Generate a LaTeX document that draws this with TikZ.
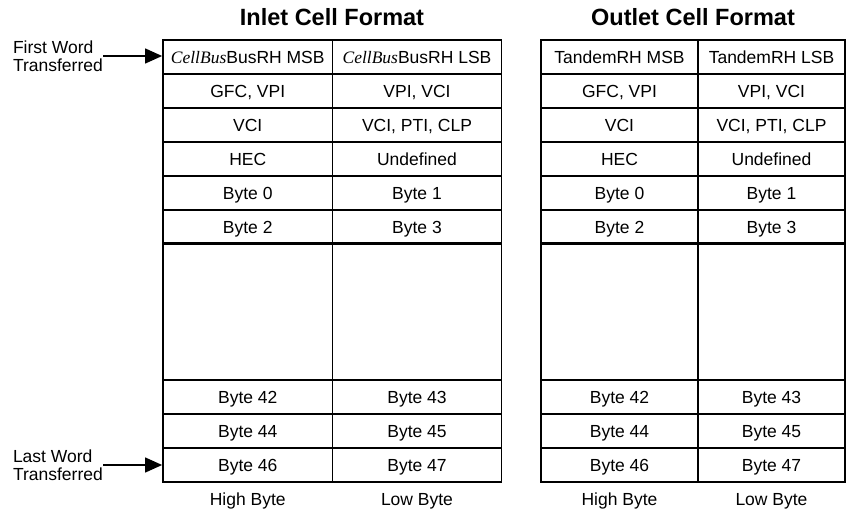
\documentclass[tikz,border=0pt]{standalone}
\usepackage{fontspec}
\setmainfont{Liberation Sans}
\newfontfamily\serifit{Liberation Serif}
\usetikzlibrary{arrows.meta,positioning}

\newcommand{\cellbus}{{\serifit\itshape CellBus}}

\tikzset{
  cell/.style={draw, line width=1.8pt, minimum height=34pt, inner sep=0pt,
    text height=16.5pt, text depth=3.5pt,
    font=\fontsize{17.5}{20}\selectfont},
  blankcell/.style={cell, minimum height=137pt},
  title/.style={font=\fontsize{23.5}{27}\selectfont\bfseries},
  sidenote/.style={font=\fontsize{17.5}{18.5}\selectfont, align=left, inner sep=0pt},
  bytenote/.style={font=\fontsize{17.5}{20}\selectfont, text height=16.5pt, text depth=3.5pt},
  wordarrow/.style={-{Triangle[length=17pt,width=15pt]}, line width=1.3pt},
}

\begin{document}
\begin{tikzpicture}[x=1pt,y=-1pt]
  \useasboundingbox (0,0) rectangle (846,513);

  % titles
  \node[title] (intitle) at (332,17) {Inlet Cell Format};
  \node[title] (outtitle) at (693,17) {Outlet Cell Format};

  % header and data rows
  \foreach \r/\ia/\ib/\oa/\ob in {
    0/{\cellbus BusRH MSB}/{\cellbus BusRH LSB}/{TandemRH MSB}/{TandemRH LSB},
    1/{GFC, VPI}/{VPI, VCI}/{GFC, VPI}/{VPI, VCI},
    2/VCI/{VCI, PTI, CLP}/VCI/{VCI, PTI, CLP},
    3/HEC/Undefined/HEC/Undefined,
    4/Byte 0/Byte 1/Byte 0/Byte 1,
    5/Byte 2/Byte 3/Byte 2/Byte 3,
    10/Byte 42/Byte 43/Byte 42/Byte 43,
    11/Byte 44/Byte 45/Byte 44/Byte 45,
    12/Byte 46/Byte 47/Byte 46/Byte 47}{
    \node[cell, minimum width=169.5pt] (inA\r) at (247.75, 57+34*\r) {\ia};
    \node[cell, minimum width=169pt] (inB\r) at (417, 57+34*\r) {\ib};
    \node[cell, minimum width=157pt] (outA\r) at (619.5, 57+34*\r) {\oa};
    \node[cell, minimum width=147pt] (outB\r) at (771.5, 57+34*\r) {\ob};
  }

  % gap for the middle bytes
  \node[blankcell, minimum width=169.5pt] (inAgap) at (247.75,311) {};
  \node[blankcell, minimum width=169pt] (inBgap) at (417,311) {};
  \node[blankcell, minimum width=157pt] (outAgap) at (619.5,311) {};
  \node[blankcell, minimum width=147pt] (outBgap) at (771.5,311) {};

  % byte order under the columns
  \node[bytenote] (inhigh) at (247.75,499) {High Byte};
  \node[bytenote] (inlow) at (417,499) {Low Byte};
  \node[bytenote] (outhigh) at (619.5,499) {High Byte};
  \node[bytenote] (outlow) at (771.5,499) {Low Byte};

  % first and last word
  \coordinate (firstend) at (103,56);
  \coordinate (lastend) at (103,465);
  \node[sidenote, anchor=east] (firstnote) at (firstend) {First Word\\Transferred};
  \node[sidenote, anchor=east] (lastnote) at (lastend) {Last Word\\Transferred};
  \draw[wordarrow] (firstend) -- (inA0.west |- firstend);
  \draw[wordarrow] (lastend) -- (inA12.west);
\end{tikzpicture}
\end{document}
